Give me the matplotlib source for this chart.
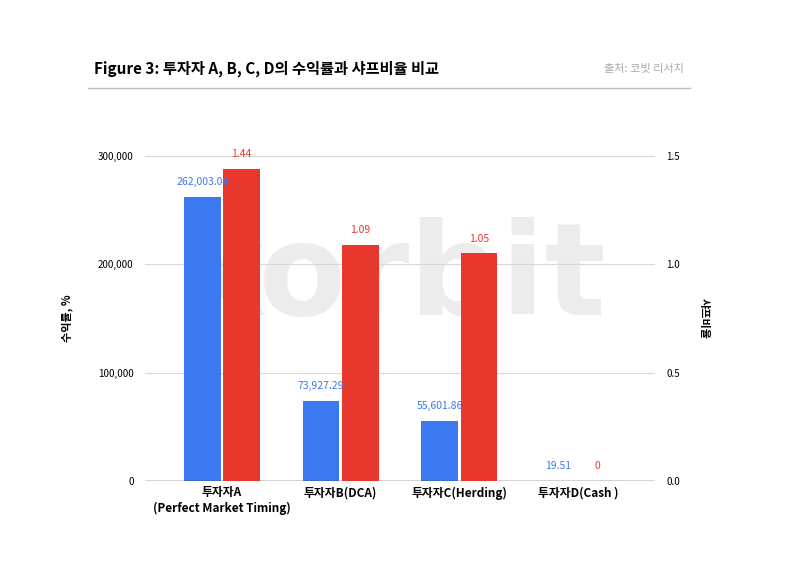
import numpy as np
import matplotlib.pyplot as plt

plt.rcParams['font.family'] = ['Noto Sans CJK KR', 'DejaVu Sans']

categories = ['투자자A\n(Perfect Market Timing)', '투자자B(DCA)', '투자자C(Herding)', '투자자D(Cash )']
returns = [262003.04, 73927.29, 55601.86, 19.51]
sharpe = [1.44, 1.09, 1.05, 0]
return_labels = ['262,003.04', '73,927.29', '55,601.86', '19.51']
sharpe_labels = ['1.44', '1.09', '1.05', '0']

blue = '#3c78f0'
red = '#e8382e'

fig = plt.figure(figsize=(8, 5.63), dpi=100)
ax = fig.add_axes([0.181, 0.146, 0.638, 0.577])
ax2 = ax.twinx()

x = np.arange(len(categories))
w = 0.31
ax.bar(x - w / 2 - 0.01, returns, w, color=blue, zorder=3)
ax2.bar(x + w / 2 + 0.01, sharpe, w, color=red, zorder=3)

# labels drawn on the right axis so they sit above both bar sets
scale = 300000 / 1.5
for i in range(len(x)):
    ax2.text(x[i] - w / 2 - 0.01, returns[i] / scale + 0.045, return_labels[i], ha='center',
             va='bottom', color=blue, fontsize=7.5, zorder=5)
    ax2.text(x[i] + w / 2 + 0.01, sharpe[i] + 0.045, sharpe_labels[i], ha='center', va='bottom',
             color=red, fontsize=7.5, zorder=5)

ax.set_xlim(-0.65, 3.65)
ax.set_ylim(0, 300000)
ax2.set_ylim(0, 1.5)
ax.set_yticks([0, 100000, 200000, 300000])
ax.set_yticklabels(['0', '100,000', '200,000', '300,000'])
ax2.set_yticks([0, 0.5, 1.0, 1.5])
ax2.set_yticklabels(['0.0', '0.5', '1.0', '1.5'])
ax.set_xticks(x)
ax.set_xticklabels(categories, fontsize=8.5, fontweight='bold')
ax.tick_params(axis='y', labelsize=7, length=0, pad=8)
ax2.tick_params(axis='y', labelsize=7, length=0, pad=8)
ax.tick_params(axis='x', length=0, pad=4)
ax.grid(axis='y', color='#d8d8d8', lw=0.8, zorder=0)
for a in (ax, ax2):
    for s in a.spines.values():
        s.set_visible(False)
ax.axhline(0, color='#333333', lw=1, zorder=4)
ax.set_ylabel('수익률, %', fontsize=8, fontweight='bold', labelpad=18)
ax2.set_ylabel('샤프비율', fontsize=8, fontweight='bold', rotation=-90, labelpad=22)

# watermark
fig.text(0.49, 0.503, 'korbit', fontsize=92, fontweight='bold', color='#ececec',
         ha='center', va='center', zorder=0, family='DejaVu Sans')
ax.set_zorder(2)
ax2.set_zorder(3)
ax.patch.set_visible(False)

fig.text(0.118, 0.878, 'Figure 3: 투자자 A, B, C, D의 수익률과 샤프비율 비교', fontsize=11,
         fontweight='bold', va='center')
fig.text(0.855, 0.878, '출처: 코빗 리서치', fontsize=8, color='#aaaaaa', ha='right', va='center')
fig.add_artist(plt.Line2D([0.11, 0.862], [0.843, 0.843], color='#bbbbbb', lw=1))

fig.savefig('out.png', dpi=100)
